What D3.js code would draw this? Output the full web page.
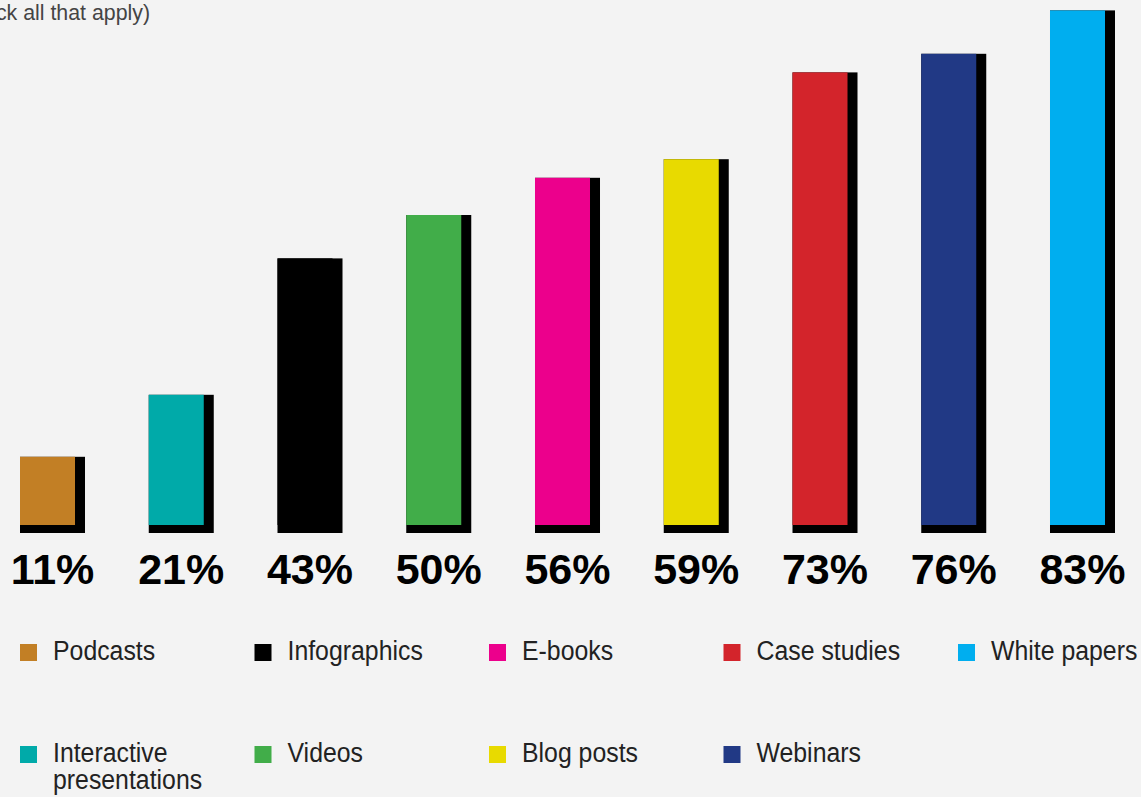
<!DOCTYPE html>
<html>
<head>
<meta charset="utf-8">
<script src="https://cdn.jsdelivr.net/npm/d3@7"></script>
<style>
  html, body { margin: 0; padding: 0; background: #f3f3f3; overflow: hidden; }
  svg { display: block; }
  .narrow { font-family: "Liberation Sans Narrow", "Arial Narrow", "Liberation Sans", sans-serif; }
</style>
</head>
<body>
<svg id="chart" width="1141" height="797"></svg>
<script>
// Content types used, share of respondents (%)
const categories = ["Podcasts", "Interactive presentations", "Infographics", "Videos", "E-books",
                    "Blog posts", "Case studies", "Webinars", "White papers"];
const values = [11, 21, 43, 50, 56, 59, 73, 76, 83];
const colors = ["#c27f25", "#00aaa9", "#000000", "#41ad49", "#ec008c",
                "#e8da00", "#d3242b", "#213985", "#00aeef"];
const legendLines = [["Podcasts"], ["Interactive", "presentations"], ["Infographics"], ["Videos"],
                     ["E-books"], ["Blog posts"], ["Case studies"], ["Webinars"], ["White papers"]];
const subtitle = "(Check all that apply)";

const svg = d3.select("#chart");
svg.append("rect").attr("width", 1141).attr("height", 797).attr("fill", "#f3f3f3");

const x = d3.scaleBand().domain(categories).range([20, 1115]).paddingInner(0.4951).paddingOuter(0);
const y = d3.scaleLinear().domain([0, 100]).range([525, -95]);
const shadow = 10, drop = 8;
const squeeze = 0.92; // horizontal condensing of the light text

svg.append("text").attr("class", "narrow")
  .attr("transform", "translate(150,20) scale(0.97,1)")
  .attr("text-anchor", "end")
  .attr("font-size", 22).attr("fill", "#444")
  .text(subtitle);

const bars = svg.append("g").selectAll("g").data(categories).join("g");
// black offset shadow
bars.append("rect")
  .attr("x", d => x(d))
  .attr("y", (d, i) => y(values[i]))
  .attr("width", x.bandwidth())
  .attr("height", (d, i) => y(0) + drop - y(values[i]))
  .attr("fill", "#000");
// coloured face
bars.append("rect")
  .attr("x", d => x(d))
  .attr("y", (d, i) => y(values[i]))
  .attr("width", x.bandwidth() - shadow)
  .attr("height", (d, i) => y(0) - y(values[i]))
  .attr("fill", (d, i) => colors[i]);
// value labels
bars.append("text")
  .attr("x", d => x(d) + x.bandwidth() / 2)
  .attr("y", 584)
  .attr("text-anchor", "middle")
  .attr("font-family", "'Liberation Sans', Arial, sans-serif")
  .attr("font-weight", "bold")
  .attr("font-size", 43)
  .attr("fill", "#000")
  .text((d, i) => values[i] + "%");

// legend: two rows, filled column by column
const legend = svg.append("g").selectAll("g").data(categories).join("g")
  .attr("transform", (d, i) => `translate(${20 + Math.floor(i / 2) * 234.5},${644 + (i % 2) * 102})`);
legend.append("rect").attr("width", 17).attr("height", 17)
  .attr("fill", (d, i) => colors[i]);
legend.append("text").attr("class", "narrow")
  .attr("transform", `translate(33,0) scale(${squeeze},1)`)
  .attr("font-size", 27).attr("fill", "#222")
  .selectAll("tspan").data((d, i) => legendLines[i]).join("tspan")
  .attr("x", 0).attr("y", (l, j) => 16 + j * 27)
  .text(l => l);
</script>
</body>
</html>
